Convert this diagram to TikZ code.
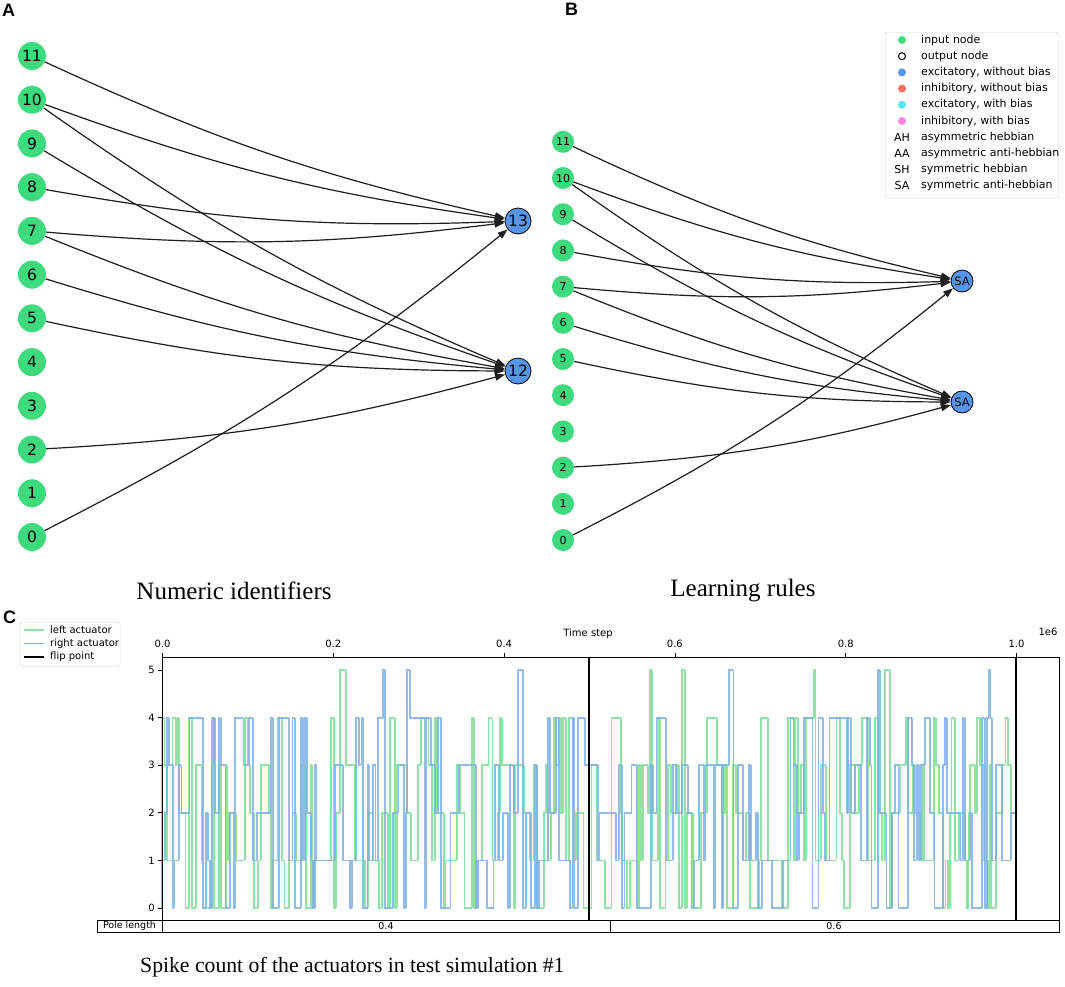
\documentclass[tikz,border=0pt]{standalone}
\usepackage{fontspec}
\setmainfont{Liberation Serif}
\setsansfont{DejaVu Sans}
\newfontfamily\labfont{Liberation Sans}
\usetikzlibrary{arrows.meta}
\definecolor{ingreen}{RGB}{62,218,126}
\definecolor{exblue}{RGB}{85,150,235}
\definecolor{inred}{RGB}{250,112,100}
\definecolor{excyan}{RGB}{85,230,250}
\definecolor{inpink}{RGB}{255,130,220}
\definecolor{sgreen}{RGB}{145,226,165}
\definecolor{sblue}{RGB}{128,178,228}
\definecolor{edgegray}{RGB}{30,30,30}
\newcommand\mystepsig[3]{%
  \pgfmathsetseed{#2}%
  \gdef\spx{162}\gdef\spv{0}%
  \foreach \i in {1,...,#3}{%
    \pgfmathsetmacro\snx{\spx+1.5+9*rnd*rnd}%
    \pgfmathsetmacro\snv{rnd<0.02 ? 5 : random(0,4)}%
    \draw[#1] (\spx,{908-47.6*\spv}) -- (\spx,{908-47.6*\snv}) -- (\snx,{908-47.6*\snv});
    \xdef\spx{\snx}\xdef\spv{\snv}%
  }%
}
\tikzset{
  anode/.style={circle,fill=ingreen,inner sep=0pt,minimum size=28pt,font=\sffamily\fontsize{15.5}{18}\selectfont},
  aout/.style={circle,fill=exblue,draw=black,line width=0.8pt,inner sep=0pt,minimum size=26pt,font=\sffamily\fontsize{15.5}{18}\selectfont},
  bnode/.style={circle,fill=ingreen,inner sep=0pt,minimum size=22pt,font=\sffamily\fontsize{11}{13}\selectfont},
  bout/.style={circle,fill=exblue,draw=black,line width=0.8pt,inner sep=0pt,minimum size=22pt,font=\sffamily\fontsize{11.5}{13}\selectfont},
  edge/.style={draw=edgegray,line width=1.2pt,-{Triangle[length=10pt,width=7pt]}},
  panellab/.style={font=\labfont\bfseries\fontsize{18}{20}\selectfont,anchor=north west,inner sep=0pt},
  caption/.style={font=\rmfamily\fontsize{25}{28}\selectfont,inner sep=0pt},
  legtext/.style={font=\sffamily\fontsize{11}{13}\selectfont,anchor=west,inner sep=0pt},
  legdot/.style={circle,inner sep=0pt,minimum size=8pt},
  ticklab/.style={font=\sffamily\fontsize{10}{12}\selectfont,inner sep=0pt},
  sigg/.style={draw=sgreen,line width=1.8pt},
  sigb/.style={draw=sblue,line width=1.8pt,opacity=0.85},
}
\begin{document}
\begin{tikzpicture}[x=1pt,y=-1pt]
\useasboundingbox[fill=white] (0,0) rectangle (1065,986);
% Panel labels
\node[panellab] (labA) at (2,4) {A};
\node[panellab] (labB) at (565,3) {B};
\node[panellab] (labC) at (3,611) {C};
% Panel A
\foreach \n in {0,...,11}
  \node[anode] (a\n) at (32,{537-43.73*\n}) {\n};
\node[aout] (a13) at (518,221) {13};
\node[aout] (a12) at (518,371) {12};
\foreach \s/\t in {11/13,10/13,10/12,9/12,8/13,7/13,7/12,6/12,5/12,2/12,0/13}
  \draw[edge] (a\s) to[bend right=6] (a\t);
% Panel B
\foreach \n in {0,...,11}
  \node[bnode] (b\n) at (563,{540-36.2*\n}) {\n};
\node[bout] (b13) at (962,281) {SA};
\node[bout] (b12) at (962,402) {SA};
\foreach \s/\t in {11/13,10/13,10/12,9/12,8/13,7/13,7/12,6/12,5/12,2/12,0/13}
  \draw[edge] (b\s) to[bend right=6] (b\t);
% Legend B
\node[draw={rgb,255:red,210;green,210;blue,210},rounded corners=2pt,minimum width=173pt,minimum height=166pt,anchor=north west] (legB) at (885,32) {};
\node[legdot,fill=ingreen] (lm0) at (902,40) {};
\node[legdot,fill=white,draw=black,line width=1pt,minimum size=7pt] (lm1) at (902,56.2) {};
\node[legdot,fill=exblue] (lm2) at (902,72.4) {};
\node[legdot,fill=inred] (lm3) at (902,88.6) {};
\node[legdot,fill=excyan] (lm4) at (902,104.8) {};
\node[legdot,fill=inpink] (lm5) at (902,121) {};
\node[ticklab,font=\sffamily\fontsize{11}{13}\selectfont] (lm6) at (902,137.2) {AH};
\node[ticklab,font=\sffamily\fontsize{11}{13}\selectfont] (lm7) at (902,153.4) {AA};
\node[ticklab,font=\sffamily\fontsize{11}{13}\selectfont] (lm8) at (902,169.6) {SH};
\node[ticklab,font=\sffamily\fontsize{11}{13}\selectfont] (lm9) at (902,185.8) {SA};
\node[legtext] (lt0) at (921,40) {input node};
\node[legtext] (lt1) at (921,56.2) {output node};
\node[legtext] (lt2) at (921,72.4) {excitatory, without bias};
\node[legtext] (lt3) at (921,88.6) {inhibitory, without bias};
\node[legtext] (lt4) at (921,104.8) {excitatory, with bias};
\node[legtext] (lt5) at (921,121) {inhibitory, with bias};
\node[legtext] (lt6) at (921,137.2) {asymmetric hebbian};
\node[legtext] (lt7) at (921,153.4) {asymmetric anti-hebbian};
\node[legtext] (lt8) at (921,169.6) {symmetric hebbian};
\node[legtext] (lt9) at (921,185.8) {symmetric anti-hebbian};
% Captions
\node[caption] (capA) at (234,591) {Numeric identifiers};
\node[caption] (capB) at (743,591) {Learning rules};
\node[caption,anchor=west,font=\rmfamily\fontsize{21.7}{25}\selectfont] (capC) at (140,967) {Spike count of the actuators in test simulation \#1};
% Panel C signals
\begin{scope}
  \clip (161,600) rectangle (1017,930);
  \mystepsig{sigg}{7}{300}
  \mystepsig{sigb}{19}{300}
\end{scope}
% flip lines
\draw[black,line width=1.5pt] (589,657) -- (589,920);
\draw[black,line width=1.5pt] (1016,657) -- (1016,920);
% axes
\draw[line width=1pt] (162,920) -- (162,657) -- (1059,657) -- (1059,932);
\foreach \v in {0,...,5}{
  \draw[line width=0.8pt] (158,{908-47.6*\v}) -- (162,{908-47.6*\v});
  \node[ticklab,anchor=east] (yt\v) at (155,{908-47.6*\v}) {\v};
}
\foreach \t/\l in {0/0.0,1/0.2,2/0.4,3/0.6,4/0.8,5/1.0}{
  \draw[line width=0.8pt] ({162.5+170.8*\t},657) -- ({162.5+170.8*\t},653);
  \node[ticklab] (xt\t) at ({162.5+170.8*\t},644) {\l};
}
\node[ticklab] (xlabel) at (588,634) {Time step};
\node[ticklab] (xexp) at (1048,632) {1e6};
% table
\draw[line width=1pt] (97,920) rectangle (1059,932);
\draw[line width=1pt] (162,920) -- (162,932);
\draw[line width=1pt] (610,920) -- (610,932);
\node[ticklab,font=\sffamily\fontsize{9.5}{11}\selectfont] (tc0) at (129.5,926) {Pole length};
\node[ticklab,font=\sffamily\fontsize{9.5}{11}\selectfont] (tc1) at (386,926) {0.4};
\node[ticklab,font=\sffamily\fontsize{9.5}{11}\selectfont] (tc2) at (834,926) {0.6};
% Legend C
\node[draw={rgb,255:red,210;green,210;blue,210},rounded corners=2pt,minimum width=100pt,minimum height=44pt,anchor=north west] (legC) at (20,622) {};
\coordinate (lc0a) at (24,630); \coordinate (lc0b) at (44,630);
\coordinate (lc1a) at (24,643.5); \coordinate (lc1b) at (44,643.5);
\coordinate (lc2a) at (24,657); \coordinate (lc2b) at (44,657);
\draw[sgreen,line width=1.6pt] (lc0a) -- (lc0b);
\draw[sblue,line width=1.6pt] (lc1a) -- (lc1b);
\draw[black,line width=1.6pt] (lc2a) -- (lc2b);
\node[legtext,font=\sffamily\fontsize{10}{12}\selectfont] (lct0) at (50,630) {left actuator};
\node[legtext,font=\sffamily\fontsize{10}{12}\selectfont] (lct1) at (50,643.5) {right actuator};
\node[legtext,font=\sffamily\fontsize{10}{12}\selectfont] (lct2) at (50,657) {flip point};
\end{tikzpicture}
\end{document}
